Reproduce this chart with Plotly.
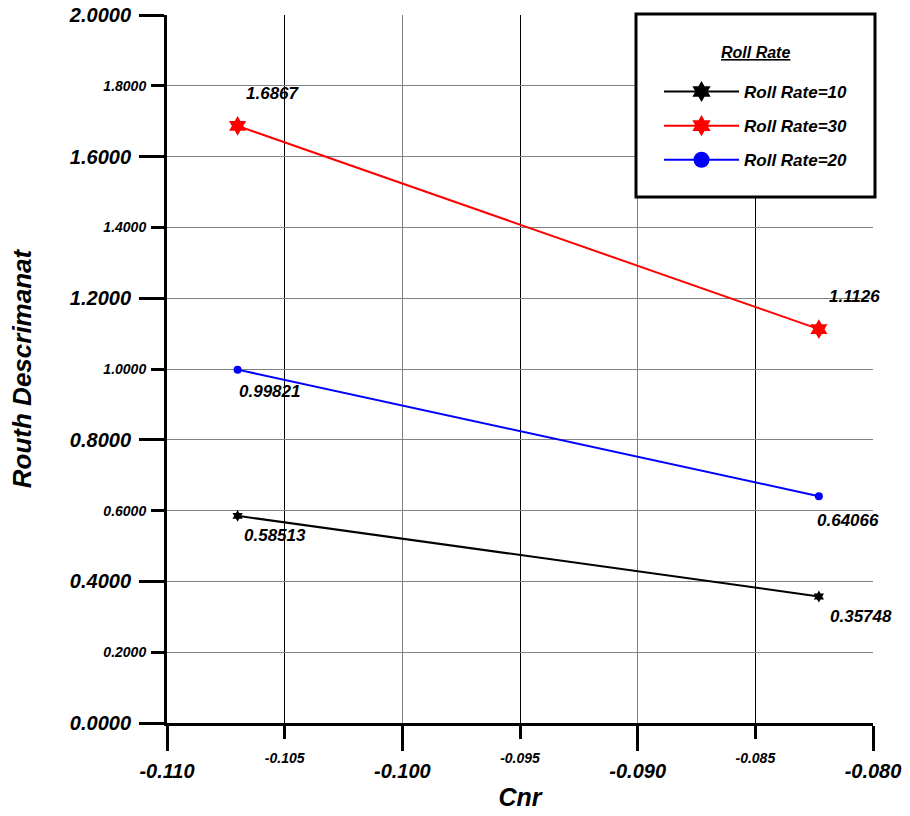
import plotly.graph_objects as go

# Cnr values at which the Routh discriminant was evaluated
cnr = [-0.1070, -0.0823]

# Routh discriminant for each roll rate
rate10 = [0.58513, 0.35748]
rate30 = [1.6867, 1.1126]
rate20 = [0.99821, 0.64066]

series_names = ["Roll Rate=10", "Roll Rate=30", "Roll Rate=20"]

x_major = [-0.110, -0.100, -0.090, -0.080]
x_minor = [-0.105, -0.095, -0.085]
y_major = [0.0, 0.4, 0.8, 1.2, 1.6, 2.0]
y_minor = [0.2, 0.6, 1.0, 1.4, 1.8]

FONT = "Arial, 'Liberation Sans', sans-serif"

# plot area in pixels
W, H = 910, 816
ML, MR, MT, MB = 167, 37, 15, 93
PW, PH = W - ML - MR, H - MT - MB


def px_x(p):
    return (p - ML) / PW


def px_y(p):
    return (H - MB - p) / PH


def bi(size):
    return dict(family=FONT, size=size, color="black", weight="bold", style="italic")


styles = [
    dict(color="black", symbol="hexagram", size=9, label_dx=[37, 42], label_dy=[-20, -20]),
    dict(color="red", symbol="hexagram", size=15, label_dx=[35, 36], label_dy=[32, 33]),
    dict(color="blue", symbol="circle", size=8, label_dx=[32, 29], label_dy=[-22, -24]),
]
values = [rate10, rate30, rate20]

fig = go.Figure()

for name, vals, st in zip(series_names, values, styles):
    fig.add_trace(go.Scatter(
        x=cnr, y=vals, mode="lines+markers", name=name, showlegend=False,
        line=dict(color=st["color"], width=2),
        marker=dict(symbol=st["symbol"], size=st["size"], color=st["color"]),
        cliponaxis=False,
    ))

# legend entries with larger symbols
for name, st in zip(series_names, styles):
    fig.add_trace(go.Scatter(
        x=[None], y=[None], mode="lines+markers", name=name, legendgroup=name,
        line=dict(color=st["color"], width=2),
        marker=dict(symbol=st["symbol"], size=16, color=st["color"]),
    ))

# carrier trace for the secondary (minor label) axes
fig.add_trace(go.Scatter(x=[None], y=[None], xaxis="x2", yaxis="y2",
                         showlegend=False, hoverinfo="skip"))

annotations = []
for vals, st in zip(values, styles):
    for i, (xv, yv) in enumerate(zip(cnr, vals)):
        annotations.append(dict(
            x=xv, y=yv, xref="x", yref="y", text=f"{yv}", showarrow=False,
            xshift=st["label_dx"][i], yshift=st["label_dy"][i], font=bi(17),
        ))

annotations.append(dict(
    x=px_x(755), y=px_y(52), xref="paper", yref="paper", text="<u>Roll Rate</u>",
    xanchor="center", yanchor="middle", showarrow=False, font=bi(16),
))

fig.update_layout(
    width=W, height=H,
    margin=dict(l=ML, r=MR, t=MT, b=MB, autoexpand=False),
    paper_bgcolor="white", plot_bgcolor="white",
    showlegend=True,
    legend=dict(
        x=px_x(659), y=px_y(74), xanchor="left", yanchor="top",
        bgcolor="rgba(0,0,0,0)", borderwidth=0, font=bi(17),
        itemwidth=75, tracegroupgap=9,
    ),
    xaxis=dict(
        range=[-0.110, -0.080], tickmode="array", tickvals=x_major,
        ticktext=[f"{v:.3f}" for v in x_major], tickfont=bi(20),
        ticks="outside", ticklen=25, tickwidth=3, tickcolor="black",
        ticklabelstandoff=3,
        showline=True, linewidth=3, linecolor="black",
        showgrid=True, gridcolor="#808080", gridwidth=1, zeroline=False,
        minor=dict(tickmode="array", tickvals=x_minor, ticks="outside", ticklen=13,
                   tickwidth=3, tickcolor="black", showgrid=True,
                   gridcolor="black", gridwidth=1),
        title=dict(text="Cnr", font=bi(25), standoff=8),
    ),
    xaxis2=dict(
        range=[-0.110, -0.080], overlaying="x", anchor="y", side="bottom",
        tickmode="array", tickvals=x_minor, ticktext=[f"{v:.3f}" for v in x_minor],
        tickfont=bi(14), ticks="outside", ticklen=22, tickcolor="rgba(0,0,0,0)",
        showline=False, showgrid=False, zeroline=False,
    ),
    yaxis=dict(
        range=[0, 2.0], tickmode="array", tickvals=y_major,
        ticktext=[f"{v:.4f}" for v in y_major], tickfont=bi(20),
        ticks="outside", ticklen=25, tickwidth=3, tickcolor="black",
        ticklabelstandoff=4,
        showline=True, linewidth=3, linecolor="black",
        showgrid=True, gridcolor="#808080", gridwidth=1, zeroline=False,
        minor=dict(tickmode="array", tickvals=y_minor, ticks="outside", ticklen=13,
                   tickwidth=3, tickcolor="black", showgrid=True,
                   gridcolor="#808080", gridwidth=1),
        title=dict(text="Routh Descrimanat", font=bi(26), standoff=30),
    ),
    yaxis2=dict(
        range=[0, 2.0], overlaying="y", anchor="x", side="left",
        tickmode="array", tickvals=y_minor, ticktext=[f"{v:.4f}" for v in y_minor],
        tickfont=bi(14), ticks="outside", ticklen=17, tickcolor="rgba(0,0,0,0)",
        showline=False, showgrid=False, zeroline=False,
    ),
    shapes=[dict(
        type="rect", xref="paper", yref="paper",
        x0=px_x(636), x1=px_x(875), y0=px_y(197), y1=px_y(14),
        line=dict(color="black", width=3), fillcolor="white", layer="above",
    )],
    annotations=annotations,
)

fig.write_html("out.html")
